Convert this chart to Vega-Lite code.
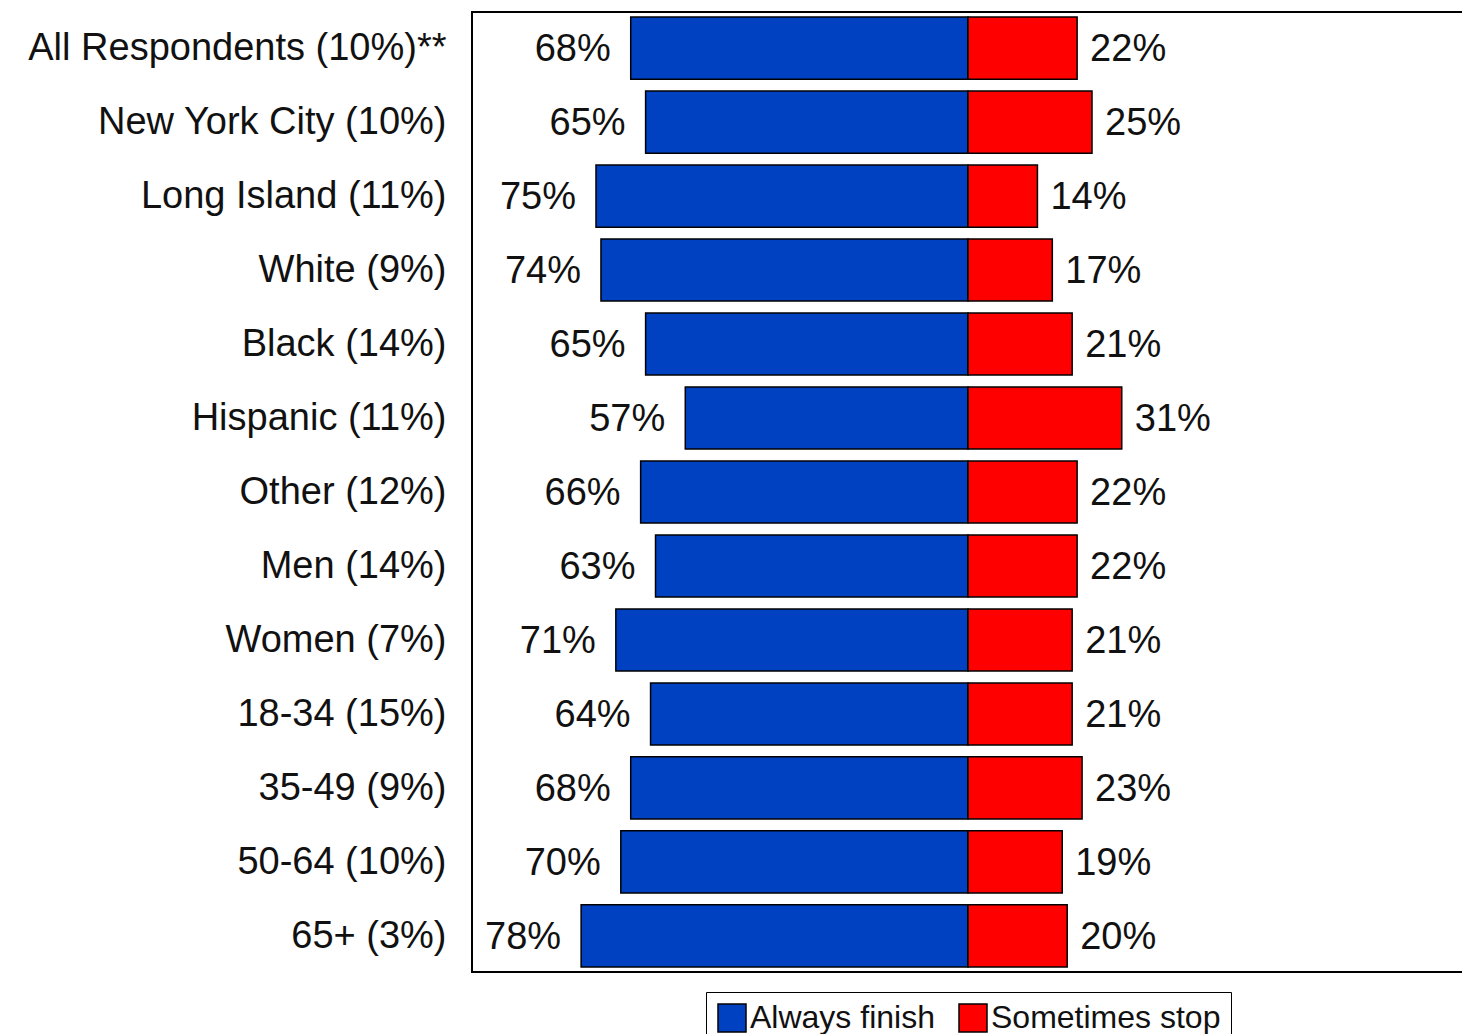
{
  "$schema": "https://vega.github.io/schema/vega-lite/v6.json",
  "autosize": {"type": "none"},
  "padding": {"left": 472, "top": 12, "right": 0, "bottom": 62},
  "width": 992,
  "height": 960,
  "background": "white",
  "config": {
    "font": "Liberation Sans",
    "view": {"stroke": "black", "strokeWidth": 2},
    "axis": {"labelFont": "Liberation Sans", "labelColor": "black"},
    "legend": {"labelFont": "Liberation Sans"}
  },
  "data": {
    "values": [
      {"group": "All Respondents (10%)**", "response": "Always finish", "value": 68},
      {"group": "New York City (10%)", "response": "Always finish", "value": 65},
      {"group": "Long Island (11%)", "response": "Always finish", "value": 75},
      {"group": "White (9%)", "response": "Always finish", "value": 74},
      {"group": "Black (14%)", "response": "Always finish", "value": 65},
      {"group": "Hispanic (11%)", "response": "Always finish", "value": 57},
      {"group": "Other (12%)", "response": "Always finish", "value": 66},
      {"group": "Men (14%)", "response": "Always finish", "value": 63},
      {"group": "Women (7%)", "response": "Always finish", "value": 71},
      {"group": "18-34 (15%)", "response": "Always finish", "value": 64},
      {"group": "35-49 (9%)", "response": "Always finish", "value": 68},
      {"group": "50-64 (10%)", "response": "Always finish", "value": 70},
      {"group": "65+ (3%)", "response": "Always finish", "value": 78},
      {"group": "All Respondents (10%)**", "response": "Sometimes stop", "value": 22},
      {"group": "New York City (10%)", "response": "Sometimes stop", "value": 25},
      {"group": "Long Island (11%)", "response": "Sometimes stop", "value": 14},
      {"group": "White (9%)", "response": "Sometimes stop", "value": 17},
      {"group": "Black (14%)", "response": "Sometimes stop", "value": 21},
      {"group": "Hispanic (11%)", "response": "Sometimes stop", "value": 31},
      {"group": "Other (12%)", "response": "Sometimes stop", "value": 22},
      {"group": "Men (14%)", "response": "Sometimes stop", "value": 22},
      {"group": "Women (7%)", "response": "Sometimes stop", "value": 21},
      {"group": "18-34 (15%)", "response": "Sometimes stop", "value": 21},
      {"group": "35-49 (9%)", "response": "Sometimes stop", "value": 23},
      {"group": "50-64 (10%)", "response": "Sometimes stop", "value": 19},
      {"group": "65+ (3%)", "response": "Sometimes stop", "value": 20}
    ]
  },
  "transform": [
    {"calculate": "datum.response === 'Always finish' ? -datum.value : datum.value", "as": "signed"},
    {"calculate": "datum.value + '%'", "as": "label"}
  ],
  "encoding": {
    "y": {
      "field": "group",
      "type": "nominal",
      "sort": null,
      "scale": {"paddingInner": 0.16, "paddingOuter": 0.068},
      "axis": {
        "title": null,
        "ticks": false,
        "domain": false,
        "labelFontSize": 38,
        "labelPadding": 26,
        "labelColor": "#111111",
        "labelLimit": 600,
        "labelBaseline": "middle",
        "labelOffset": 1
      }
    }
  },
  "layer": [
    {
      "mark": {"type": "bar", "stroke": "black", "strokeWidth": 1.5},
      "encoding": {
        "x": {
          "field": "signed",
          "type": "quantitative",
          "scale": {"domain": [-100, 100], "nice": false},
          "axis": null
        },
        "color": {
          "field": "response",
          "type": "nominal",
          "scale": {"domain": ["Always finish", "Sometimes stop"], "range": ["#0041C2", "#FF0000"]},
          "legend": {
            "title": null,
            "orient": "none",
            "legendX": 234,
            "legendY": 980,
            "direction": "horizontal",
            "strokeColor": "black",
            "fillColor": "white",
            "padding": 10,
            "symbolType": "square",
            "symbolSize": 784,
            "symbolStrokeColor": "black",
            "symbolStrokeWidth": 1.5,
            "symbolOpacity": 1,
            "labelFontSize": 32,
            "labelColor": "#111111",
            "labelOffset": 2,
            "columnPadding": 21,
            "labelLimit": 400
          }
        }
      }
    },
    {
      "transform": [{"filter": "datum.response === 'Always finish'"}],
      "mark": {"type": "text", "align": "right", "baseline": "middle", "dx": -20, "dy": 2, "fontSize": 38, "color": "#111111"},
      "encoding": {
        "x": {"field": "signed", "type": "quantitative"},
        "text": {"field": "label"}
      }
    },
    {
      "transform": [{"filter": "datum.response === 'Sometimes stop'"}],
      "mark": {"type": "text", "align": "left", "baseline": "middle", "dx": 13, "dy": 2, "fontSize": 38, "color": "#111111"},
      "encoding": {
        "x": {"field": "signed", "type": "quantitative"},
        "text": {"field": "label"}
      }
    },
    {
      "mark": {"type": "rule", "color": "black", "strokeWidth": 2},
      "encoding": {"x": {"datum": 0, "type": "quantitative"}}
    }
  ]
}
